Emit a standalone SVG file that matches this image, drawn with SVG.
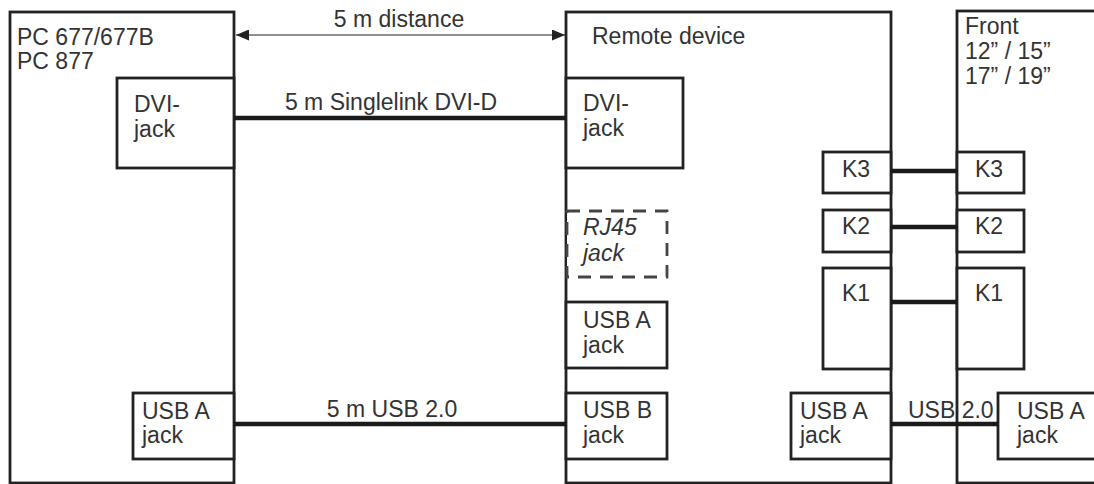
<svg xmlns="http://www.w3.org/2000/svg" width="1094" height="484" viewBox="0 0 1094 484">
<style>
.box{fill:none;stroke:#222;stroke-width:2.8}
.fill{fill:#fff;stroke:#222;stroke-width:2.8}
.dash{fill:#fff;stroke:#444;stroke-width:2.8;stroke-dasharray:13 9}
.cable{stroke:#1a1a1a;stroke-width:4.5;fill:none}
.thin{stroke:#222;stroke-width:1;fill:none}
text{font-family:"Liberation Sans",Arial,sans-serif;font-size:23px;fill:#333}
.it{font-style:italic}
.mid{text-anchor:middle}
</style>
<defs>
<marker id="ah" viewBox="0 0 13 11" refX="13" refY="5.5" markerWidth="13" markerHeight="11" markerUnits="userSpaceOnUse" orient="auto-start-reverse">
<path d="M0,0 L13,5.5 L0,11 z" fill="#222"/>
</marker>
</defs>
<g id="pc">
<rect class="box" x="10" y="12" width="224" height="471"/>
<text x="17" y="45">PC 677/677B</text>
<text x="17" y="69">PC 877</text>
</g>
<g id="pc-dvi">
<rect class="fill" x="117" y="78" width="117" height="90"/>
<text x="134" y="112">DVI-</text>
<text x="134" y="137">jack</text>
</g>
<g id="pc-usb">
<rect class="fill" x="133" y="393" width="101" height="66"/>
<text x="142" y="419">USB A</text>
<text x="142" y="443">jack</text>
</g>
<g id="remote">
<rect class="box" x="566" y="12" width="325" height="471"/>
<text x="592" y="44">Remote device</text>
</g>
<g id="remote-dvi">
<rect class="fill" x="566" y="78" width="117" height="90"/>
<text x="583" y="111">DVI-</text>
<text x="583" y="136">jack</text>
</g>
<g id="remote-rj45">
<rect class="dash" x="567" y="211" width="100" height="66"/>
<text class="it" x="583" y="235">RJ45</text>
<text class="it" x="583" y="261">jack</text>
</g>
<g id="remote-usba">
<rect class="fill" x="566" y="302" width="101" height="66"/>
<text x="583" y="328">USB A</text>
<text x="583" y="353">jack</text>
</g>
<g id="remote-usbb">
<rect class="fill" x="566" y="393" width="101" height="66"/>
<text x="583" y="418">USB B</text>
<text x="583" y="443">jack</text>
</g>
<g id="remote-k3">
<rect class="fill" x="823" y="152" width="68" height="41"/>
<text x="842" y="177">K3</text>
</g>
<g id="remote-k2">
<rect class="fill" x="823" y="210" width="68" height="42"/>
<text x="842" y="234">K2</text>
</g>
<g id="remote-k1">
<rect class="fill" x="823" y="268" width="68" height="101"/>
<text x="842" y="301">K1</text>
</g>
<g id="remote-usba2">
<rect class="fill" x="791" y="393" width="100" height="66"/>
<text x="800" y="419">USB A</text>
<text x="800" y="443">jack</text>
</g>
<g id="front">
<rect class="box" x="957" y="11" width="150" height="472"/>
<text x="965" y="34">Front</text>
<text x="965" y="59">12” / 15”</text>
<text x="965" y="84">17” / 19”</text>
</g>
<g id="front-k3">
<rect class="fill" x="957" y="152" width="67" height="41"/>
<text x="975" y="177">K3</text>
</g>
<g id="front-k2">
<rect class="fill" x="957" y="210" width="67" height="42"/>
<text x="975" y="234">K2</text>
</g>
<g id="front-k1">
<rect class="fill" x="957" y="268" width="67" height="101"/>
<text x="975" y="301">K1</text>
</g>
<g id="front-usba">
<rect class="fill" x="998" y="393" width="110" height="66"/>
<text x="1017" y="419">USB A</text>
<text x="1017" y="443">jack</text>
</g>
<g id="connectors">
<line class="thin" x1="236" y1="35" x2="565" y2="35" marker-start="url(#ah)" marker-end="url(#ah)"/>
<text class="mid" x="399" y="27">5 m distance</text>
<line class="cable" x1="234" y1="118" x2="566" y2="118"/>
<text class="mid" x="391" y="110">5 m Singlelink DVI-D</text>
<line class="cable" x1="234" y1="424" x2="566" y2="424"/>
<text class="mid" x="392" y="417">5 m USB 2.0</text>
<line class="cable" x1="891" y1="171" x2="957" y2="171"/>
<line class="cable" x1="891" y1="227" x2="957" y2="227"/>
<line class="cable" x1="891" y1="302" x2="957" y2="302"/>
<line class="cable" x1="891" y1="424" x2="998" y2="424"/>
<text x="908" y="418">USB 2.0</text>
</g>
</svg>
